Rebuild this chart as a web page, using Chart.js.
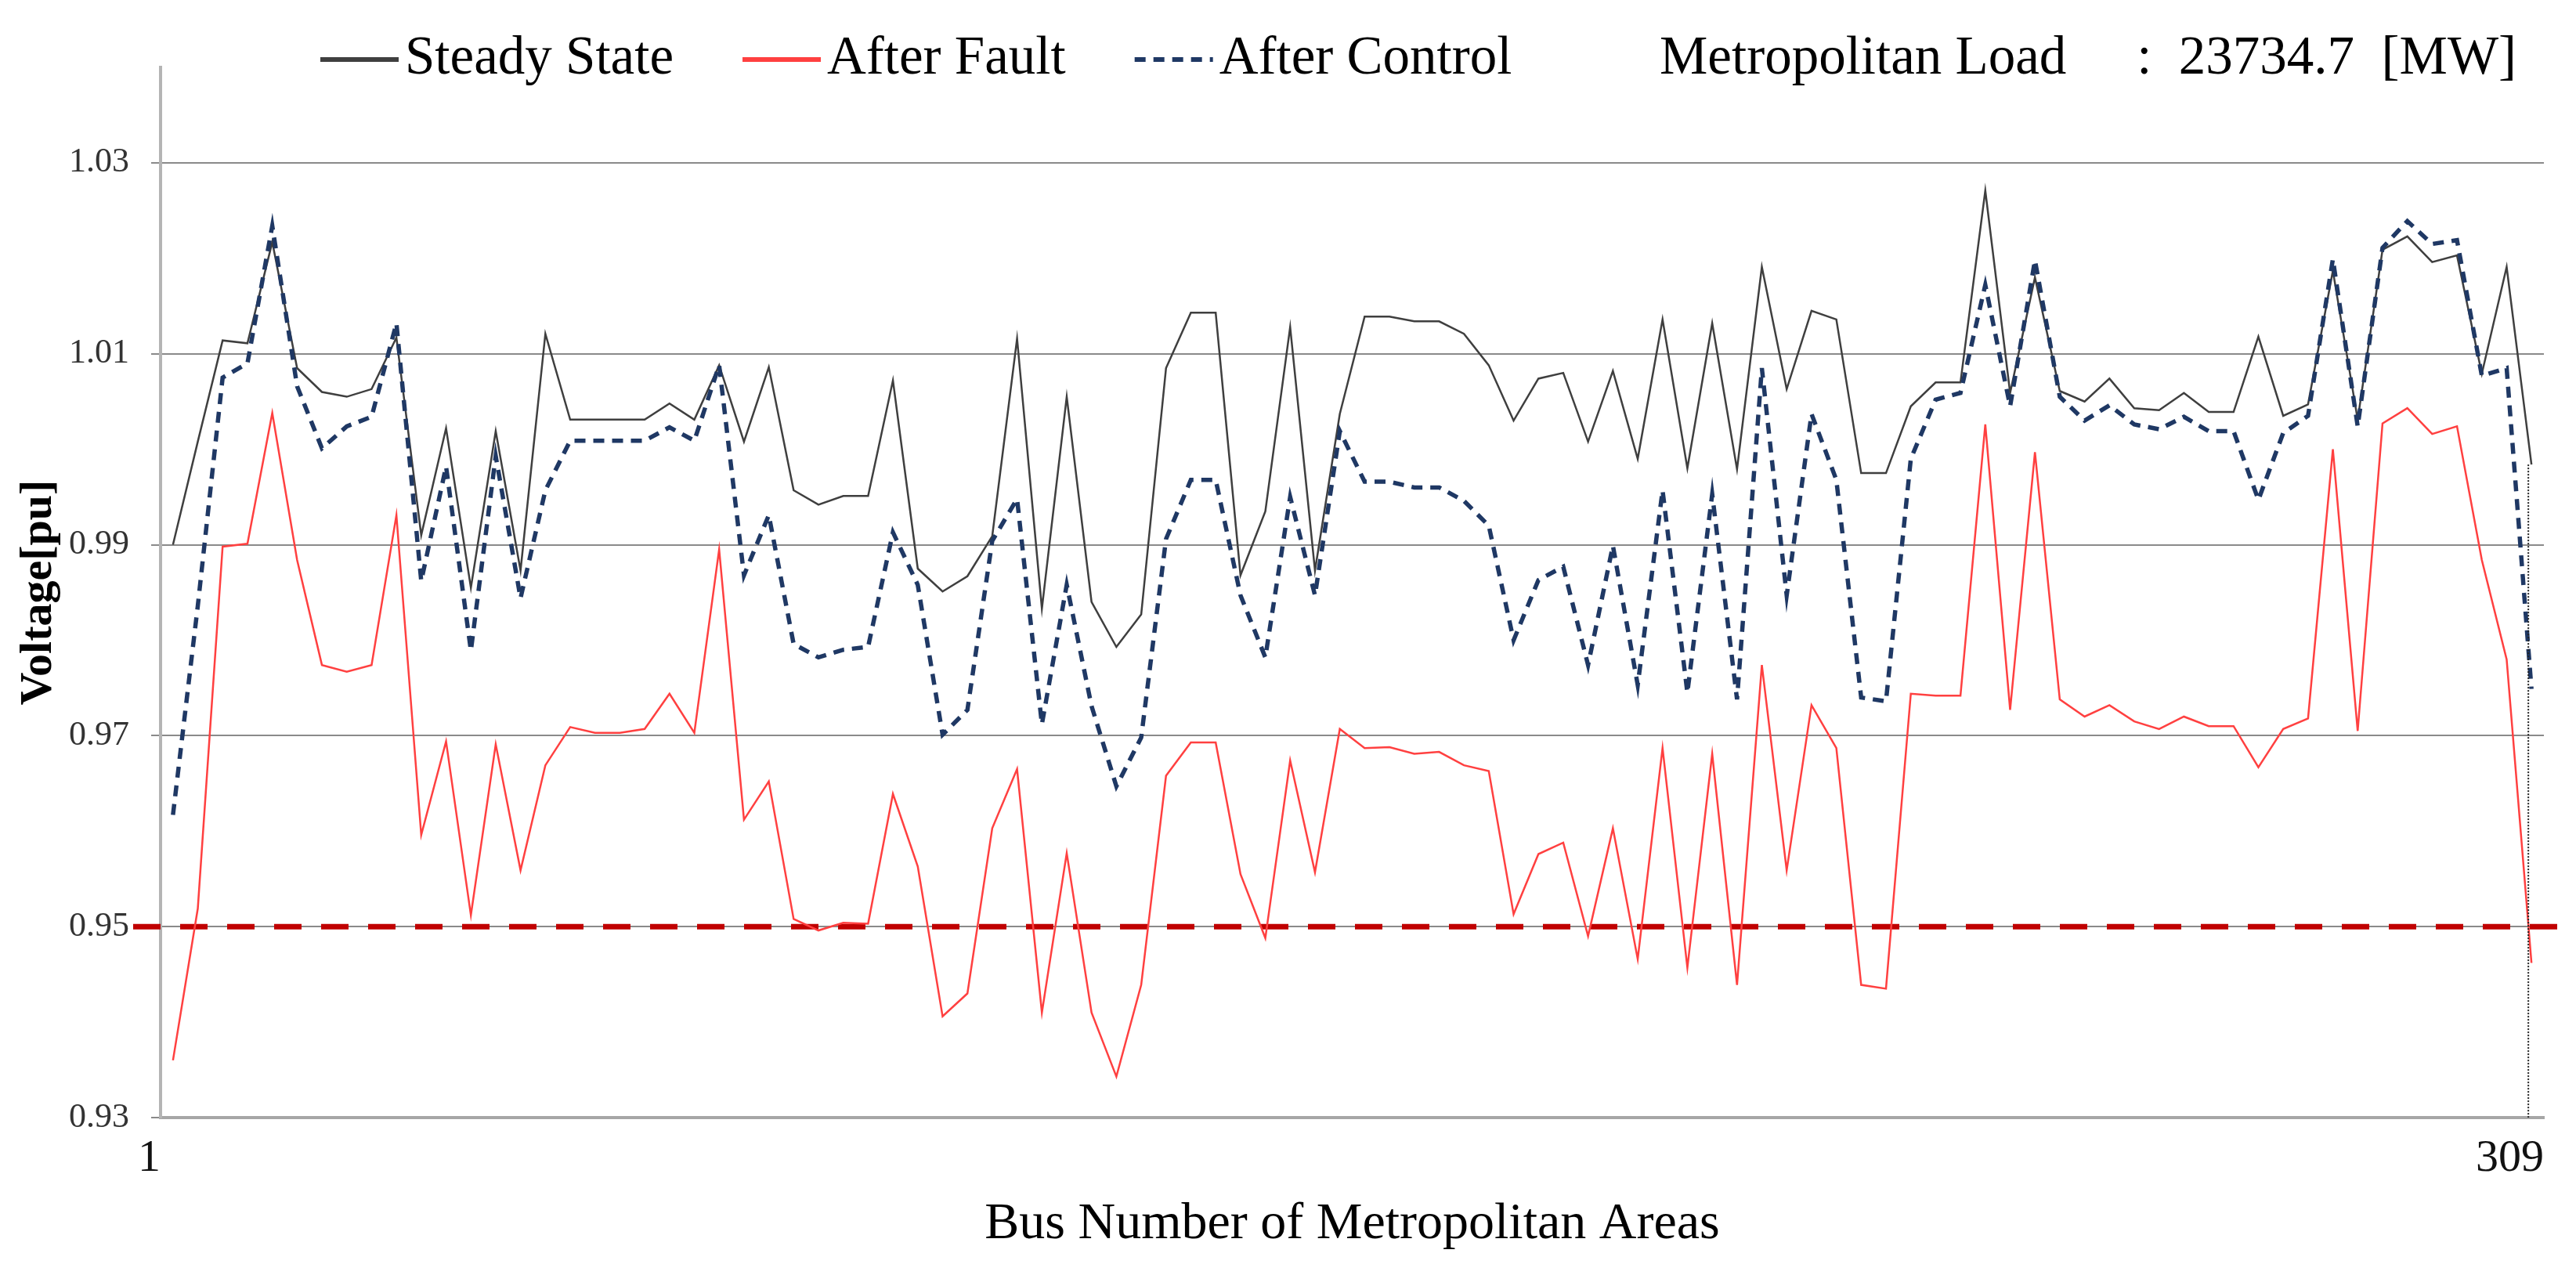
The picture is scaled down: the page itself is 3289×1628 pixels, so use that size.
<!DOCTYPE html>
<html>
<head>
<meta charset="utf-8">
<title>Bus voltage</title>
<script src="https://cdn.jsdelivr.net/npm/chart.js@4.4.1/dist/chart.umd.min.js"></script>
<style>
  html, body { margin: 0; padding: 0; background: #fff; }
  #wrap { width: 3289px; height: 1628px; position: relative; }
</style>
</head>
<body>
<div id="wrap"><canvas id="myChart"></canvas></div>
<script>
// values, one per plotted bus
const steadyState = [
  0.9900, 1.0008, 1.0114, 1.0111, 1.0217, 1.0085, 1.0060, 1.0055, 1.0063, 1.0117,
  0.9910, 1.0022, 0.9855, 1.0019, 0.9873, 1.0121, 1.0031, 1.0031, 1.0031, 1.0031,
  1.0048, 1.0031, 1.0088, 1.0008, 1.0086, 0.9957, 0.9942, 0.9951, 0.9951, 1.0072,
  0.9875, 0.9851, 0.9867, 0.9909, 1.0116, 0.9833, 1.0055, 0.9840, 0.9793, 0.9827,
  1.0085, 1.0143, 1.0143, 0.9868, 0.9935, 1.0128, 0.9873, 1.0037, 1.0139, 1.0139,
  1.0134, 1.0134, 1.0121, 1.0088, 1.0030, 1.0074, 1.0080, 1.0008, 1.0082, 0.9990,
  1.0136, 0.9980, 1.0132, 0.9979, 1.0191, 1.0063, 1.0145, 1.0136, 0.9975, 0.9975,
  1.0045, 1.0070, 1.0070, 1.0271, 1.0059, 1.0180, 1.0061, 1.0050, 1.0074, 1.0043,
  1.0041, 1.0059, 1.0039, 1.0039, 1.0118, 1.0035, 1.0047, 1.0187, 1.0031, 1.0209,
  1.0223, 1.0196, 1.0203, 1.0079, 1.0191, 0.9984
];
const afterFault = [
  0.9360, 0.9519, 0.9898, 0.9901, 1.0038, 0.9884, 0.9774, 0.9767, 0.9774, 0.9931,
  0.9596, 0.9694, 0.9512, 0.9691, 0.9559, 0.9669, 0.9709, 0.9703, 0.9703, 0.9707,
  0.9744, 0.9703, 0.9895, 0.9612, 0.9652, 0.9508, 0.9496, 0.9504, 0.9503, 0.9639,
  0.9563, 0.9406, 0.9430, 0.9603, 0.9665, 0.9410, 0.9577, 0.9410, 0.9343, 0.9439,
  0.9658, 0.9693, 0.9693, 0.9555, 0.9488, 0.9674, 0.9557, 0.9707, 0.9687, 0.9688,
  0.9681, 0.9683, 0.9669, 0.9663, 0.9513, 0.9576, 0.9588, 0.9490, 0.9603, 0.9466,
  0.9687, 0.9457, 0.9681, 0.9439, 0.9774, 0.9559, 0.9732, 0.9687, 0.9439, 0.9435,
  0.9744, 0.9742, 0.9742, 1.0026, 0.9727, 0.9997, 0.9738, 0.9720, 0.9732, 0.9715,
  0.9707, 0.9720, 0.9710, 0.9710, 0.9667, 0.9707, 0.9718, 1.0000, 0.9705, 1.0027,
  1.0043, 1.0016, 1.0024, 0.9884, 0.9780, 0.9462
];
const afterControl = [
  0.9617, 0.9836, 1.0075, 1.0090, 1.0234, 1.0066, 1.0001, 1.0024, 1.0034, 1.0132,
  0.9862, 0.9982, 0.9789, 0.9993, 0.9844, 0.9957, 1.0009, 1.0009, 1.0009, 1.0009,
  1.0023, 1.0009, 1.0088, 0.9868, 0.9931, 0.9796, 0.9782, 0.9790, 0.9793, 0.9913,
  0.9858, 0.9701, 0.9727, 0.9904, 0.9948, 0.9712, 0.9858, 0.9731, 0.9647, 0.9698,
  0.9906, 0.9968, 0.9968, 0.9847, 0.9782, 0.9950, 0.9847, 1.0019, 0.9966, 0.9966,
  0.9960, 0.9960, 0.9946, 0.9920, 0.9800, 0.9863, 0.9877, 0.9774, 0.9899, 0.9753,
  0.9957, 0.9745, 0.9953, 0.9738, 1.0085, 0.9847, 1.0037, 0.9968, 0.9740, 0.9736,
  0.9990, 1.0052, 1.0059, 1.0172, 1.0045, 1.0198, 1.0055, 1.0030, 1.0046, 1.0026,
  1.0021, 1.0034, 1.0019, 1.0019, 0.9947, 1.0017, 1.0035, 1.0199, 1.0024, 1.0211,
  1.0239, 1.0215, 1.0219, 1.0077, 1.0085, 0.9749
];

// plotted position of each bus along the axis
const busNumbers = steadyState.map((v, i) => i + 1);
const busTickLabels = ['1', '309'];
const voltageTicks = [0.93, 0.95, 0.97, 0.99, 1.01, 1.03];
const voltageLimit = 0.95;
const loadName = 'Metropolitan Load';
const loadValue = ':  23734.7  [MW]';

const serif = '"Liberation Serif", "Times New Roman", serif';
Chart.defaults.font.family = serif;

// 0.95 pu limit, runs a little past both ends of the plot
const limitLine = {
  id: 'limitLine',
  beforeDatasetsDraw(chart) {
    const { ctx, chartArea } = chart;
    const y = chart.scales.y.getPixelForValue(voltageLimit);
    ctx.save();
    ctx.strokeStyle = '#c00000';
    ctx.lineWidth = 7;
    ctx.setLineDash([35, 25]);
    ctx.beginPath();
    ctx.moveTo(chartArea.left - 35, y);
    ctx.lineTo(chartArea.right + 22, y);
    ctx.stroke();
    ctx.restore();
  }
};

// dotted drop line under the last bus
const dropLine = {
  id: 'dropLine',
  afterDatasetsDraw(chart) {
    const { ctx, chartArea } = chart;
    const last = busNumbers.length - 1;
    const x = chart.scales.x.getPixelForValue(busNumbers[last]) - 4;
    const y = chart.scales.y.getPixelForValue(steadyState[last]);
    ctx.save();
    ctx.strokeStyle = '#222';
    ctx.lineWidth = 2;
    ctx.setLineDash([2, 2]);
    ctx.beginPath();
    ctx.moveTo(x, y);
    ctx.lineTo(x, chartArea.bottom);
    ctx.stroke();
    ctx.restore();
  }
};

// legend row plus the load note on the same line
const topLegend = {
  id: 'topLegend',
  afterDraw(chart) {
    const ctx = chart.ctx;
    const y = 76;
    let x = 409;
    ctx.save();
    ctx.font = '69px ' + serif;
    ctx.textBaseline = 'middle';
    ctx.fillStyle = '#000';
    chart.data.datasets.forEach(ds => {
      ctx.strokeStyle = ds.borderColor;
      ctx.lineWidth = ds.legendWidth;
      ctx.setLineDash(ds.borderDash || []);
      ctx.beginPath();
      ctx.moveTo(x, y);
      ctx.lineTo(x + 100, y);
      ctx.stroke();
      ctx.setLineDash([]);
      ctx.fillText(ds.label, x + 108, y);
      x += 108 + ctx.measureText(ds.label).width + 88;
    });
    ctx.fillText(loadName, 2119, y);
    ctx.textAlign = 'right';
    ctx.fillText(loadValue, chart.chartArea.right - 35, y);
    ctx.restore();
  }
};

new Chart(document.getElementById('myChart'), {
  type: 'line',
  data: {
    labels: busNumbers,
    datasets: [
      { label: 'Steady State', data: steadyState, borderColor: '#3f3f3f', borderWidth: 2.5, legendWidth: 6, order: 1 },
      { label: 'After Fault', data: afterFault, borderColor: '#ff4040', borderWidth: 2.5, legendWidth: 6, order: 2 },
      { label: 'After Control', data: afterControl, borderColor: '#1f3864', borderWidth: 5.5, borderDash: [14, 10], legendWidth: 6, order: 0 }
    ]
  },
  options: {
    responsive: true,
    maintainAspectRatio: false,
    devicePixelRatio: 1,
    animation: false,
    layout: { padding: { top: 86, right: 41, left: 0, bottom: 0 } },
    elements: { point: { radius: 0 }, line: { tension: 0 } },
    plugins: { legend: { display: false }, tooltip: { enabled: false } },
    scales: {
      x: {
        type: 'linear',
        min: 0.5,
        max: busNumbers.length + 0.5,
        afterBuildTicks: s => { s.ticks = [{ value: s.min }, { value: s.max }]; },
        afterFit: s => { s.height = 201; },
        grid: { display: false },
        border: { color: '#a6a6a6', width: 4 },
        ticks: {
          align: 'end', padding: 10, maxRotation: 0, autoSkip: false,
          color: '#111', font: { size: 58 },
          callback: (v, i) => busTickLabels[i]
        },
        title: {
          display: true, text: 'Bus Number of Metropolitan Areas', color: '#000',
          font: { size: 66 }, padding: { top: 0, bottom: 25 }
        }
      },
      y: {
        min: 0.93,
        max: 1.04,
        afterBuildTicks: s => { s.ticks = voltageTicks.map(v => ({ value: v })); },
        afterFit: s => { s.width = 205; },
        grid: { color: '#8a8a8a', lineWidth: 2, tickLength: 12 },
        border: { color: '#b4b4b4', width: 4 },
        ticks: {
          padding: 28, color: '#333', font: { size: 44 },
          callback: v => v.toFixed(2)
        },
        title: {
          display: true, text: 'Voltage[pu]', color: '#000',
          font: { size: 58, weight: 'bold' }, padding: { top: 15, bottom: 0 }
        }
      }
    }
  },
  plugins: [limitLine, dropLine, topLegend]
});
</script>
</body>
</html>
